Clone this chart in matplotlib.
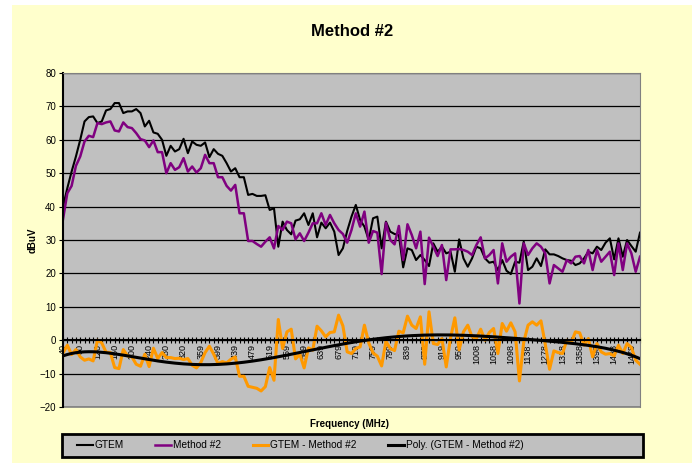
import numpy as np
import matplotlib
matplotlib.use("Agg")
import matplotlib.pyplot as plt
from matplotlib.patches import Rectangle
from matplotlib.lines import Line2D

# tick labels shown on every 4th category
freq_labels = ["40", "80", "120", "160", "200", "240", "280", "320", "359", "399",
               "439", "479", "519", "559", "599", "639", "679", "719", "759", "799",
               "839", "879", "919", "959", "1008", "1058", "1098", "1138", "1278", "1318",
               "1358", "1398", "1438", "1478"]

gtem = [40, 45.5, 50.5, 55, 60, 65.5, 66.8, 67, 65, 65.5,
        68.8, 69.2, 71, 71, 68, 68.5, 68.5, 69.2, 68, 64,
        65.7, 62.2, 61.8, 60, 55.2, 58.2, 56.5, 57.2, 60.3, 56,
        59.5, 58.5, 58.2, 59.2, 54.8, 57.2, 55.8, 55.2, 53, 50.5,
        51.5, 48.8, 48.8, 43.5, 43.8, 43.2, 43.2, 43.4, 39, 39.5,
        28, 35.5, 33, 31.7, 35.8, 36.2, 38, 34.5, 38, 30.8,
        35.2, 33.5, 35.2, 32.5, 25.5, 27.5, 32.7, 37, 40.5, 36,
        34, 30, 36.5, 37, 27.5, 35.5, 32.5, 31.8, 31.5, 21.8,
        27.5, 27, 24, 25.5, 24, 22.2, 29, 26.5, 28, 26,
        26.5, 20.5, 30.2, 24.5, 22, 24.5, 28, 27.5, 24.5, 23.2,
        23.5, 21, 24, 20.8, 19.8, 23.5, 23.2, 29.5, 21, 22,
        24.5, 22.2, 27.2, 25.7, 25.7, 25.2, 24.5, 24, 23.8, 22.5,
        23, 24.5, 26.5, 26, 28, 27, 29.2, 30.5, 24.2, 30.5,
        25, 30, 28.2, 26.5, 32.2]

method2 = [36.2, 44, 46.2, 52.2, 55, 59.5, 61.2, 60.8, 65, 64.7,
           65.2, 65.5, 62.8, 62.5, 65.2, 63.8, 63.5, 62, 60.2, 59.8,
           57.8, 59.8, 56.3, 56.3, 50, 53, 51, 51.8, 54.5, 50.5,
           52, 50.2, 51.5, 55.5, 53, 53, 48.8, 48.8, 46.2, 44.8,
           46.5, 38, 38, 29.7, 29.7, 28.8, 28, 29.5, 30.8, 27.5,
           34.2, 33, 35.5, 35, 30.2, 32, 29.7, 32.2, 35, 35,
           38, 34.5, 37.5, 35, 33, 31.8, 29.2, 33, 38, 34,
           38.5, 29.2, 32.7, 32.2, 19.8, 35.2, 30, 28.7, 34.2, 24,
           34.7, 31.5, 27.5, 32.5, 16.8, 30.7, 28, 25.2, 28.5, 18,
           27.2, 27.2, 27.3, 27, 26.5, 25.5, 28.5, 30.8, 24.5, 25.5,
           27, 17, 29, 23.5, 25, 26, 11, 29, 25.5, 27.5,
           29, 28, 26, 17, 22.5, 21.5, 20.5, 24, 23, 25,
           25.2, 23, 27, 21, 27, 23.5, 25, 26.5, 19.5, 29,
           21, 29, 26, 20.5, 25]

gtem = np.array(gtem)
method2 = np.array(method2)
x = np.arange(len(gtem))
diff = method2 - gtem
# Excel-style polynomial trendline (order 6)
trend = np.polyval(np.polyfit(x, diff, 6), x)

plt.rcParams['font.family'] = ['Liberation Sans', 'DejaVu Sans']

W, H = 698, 466
fig = plt.figure(figsize=(W / 100, H / 100), dpi=100)
fig.patches.append(Rectangle((12 / W, 3 / H), 680 / W, 458 / H, transform=fig.transFigure,
                             facecolor='#FFFFCC', edgecolor='none', zorder=-10))

ax = fig.add_axes([63 / W, 1 - 407 / H, (640 - 63) / W, (407 - 73) / H])
ax.set_facecolor('#C0C0C0')

l1, = ax.plot(x, gtem, color='black', lw=1.5)
l2, = ax.plot(x, method2, color='#800080', lw=1.8)
l3, = ax.plot(x, diff, color='#FF9900', lw=2.2)
l4, = ax.plot(x, trend, color='black', lw=2.2)

ax.set_xlim(0, len(x) - 1)
ax.set_ylim(-20, 80)
ax.set_yticks(range(-20, 81, 10))
ax.yaxis.grid(True, color='black', lw=0.9)
ax.set_axisbelow(True)

for s in ['top', 'right']:
    ax.spines[s].set_color('#808080')
ax.spines['left'].set_color('black')
ax.spines['left'].set_linewidth(1.5)
ax.spines['bottom'].set_position(('data', 0))
ax.spines['bottom'].set_color('black')
ax.spines['bottom'].set_linewidth(1.5)
ax.add_line(Line2D([0, 1], [0, 0], transform=ax.transAxes, color='#808080', lw=1.2, clip_on=False))

ax.set_xticks(x)
ax.set_xticklabels([freq_labels[i // 4] if i % 4 == 0 else '' for i in x])
ax.tick_params(axis='x', direction='inout', length=4, width=0.8, labelsize=6.5,
               labelrotation=90, pad=1, colors='black')
ax.tick_params(axis='y', direction='out', length=3, width=0.8, labelsize=7, pad=2)

fig.text(352 / W, 1 - 31 / H, 'Method #2', ha='center', va='center', fontsize=12, fontweight='bold')
fig.text(33 / W, 1 - 240 / H, 'dBuV', ha='center', va='center', rotation=90, fontsize=7, fontweight='bold')
fig.text(350 / W, 1 - 424 / H, 'Frequency (MHz)', ha='center', va='center', fontsize=7, fontweight='bold')

fig.patches.append(Rectangle((62 / W, 1 - 457 / H), 581 / W, 23 / H, transform=fig.transFigure,
                             facecolor='#C0C0C0', edgecolor='black', lw=2, zorder=1))
fig.legend([l1, l2, l3, l4], ['GTEM', 'Method #2', 'GTEM - Method #2', 'Poly. (GTEM - Method #2)'],
           loc='center left', bbox_to_anchor=(77 / W, 1 - 445.5 / H), ncol=4, frameon=False,
           fontsize=7.3, handlelength=1.55, handletextpad=0.2, columnspacing=3.1,
           borderaxespad=0, borderpad=0)

fig.savefig('out.png', dpi=100)
